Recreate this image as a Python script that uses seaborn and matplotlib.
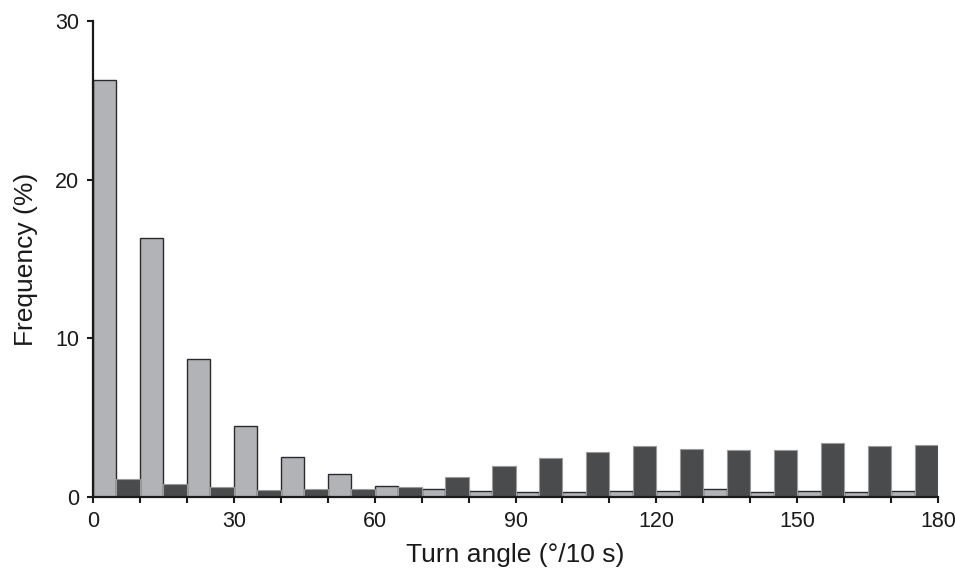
import pandas as pd
import seaborn as sns
import matplotlib.pyplot as plt
from matplotlib.ticker import MultipleLocator

# frequency (%) per 10-degree turn angle bin, two groups
bin_starts = list(range(0, 180, 10))
light_freq = [26.3, 16.3, 8.7, 4.47, 2.5, 1.43, 0.69, 0.48, 0.4,
              0.3, 0.3, 0.4, 0.4, 0.48, 0.3, 0.4, 0.3, 0.4]
dark_freq = [1.11, 0.79, 0.6, 0.46, 0.52, 0.52, 0.6, 1.28, 1.93,
             2.46, 2.82, 3.2, 3.05, 2.96, 2.96, 3.38, 3.2, 3.3]

sns.set_style("ticks")
plt.rcParams['font.family'] = ['Liberation Sans', 'DejaVu Sans']

fig = plt.figure(figsize=(9.55, 5.69), dpi=100)
ax = fig.add_axes([0.0974, 0.1265, 0.8848, 0.837])

light = pd.DataFrame({"angle": [b + 2.5 for b in bin_starts], "freq": light_freq})
dark = pd.DataFrame({"angle": [b + 7.5 for b in bin_starts], "freq": dark_freq})

sns.histplot(data=light, x="angle", weights="freq", binwidth=5, binrange=(0, 180),
             ax=ax, color="#b2b3b7", edgecolor="#2b2b2b", linewidth=1.0, alpha=1)
sns.histplot(data=dark, x="angle", weights="freq", binwidth=5, binrange=(0, 180),
             ax=ax, color="#4a4b4d", edgecolor="#9a9a9a", linewidth=0.8, alpha=1)

ax.set_xlim(0, 180)
ax.set_ylim(0, 30)
ax.set_xticks(range(0, 181, 30))
ax.xaxis.set_minor_locator(MultipleLocator(10))
ax.set_yticks([0, 10, 20, 30])
ax.tick_params(axis="both", which="both", direction="out", length=4,
               width=1.5, labelsize=15.5, color="#1a1a1a", labelcolor="#1a1a1a")
ax.tick_params(axis="x", pad=6)
ax.tick_params(axis="y", pad=6)
sns.despine(ax=ax)
for s in ["left", "bottom"]:
    ax.spines[s].set_linewidth(1.6)
    ax.spines[s].set_color("#1a1a1a")

ax.set_xlabel("Turn angle (°/10 s)", fontsize=19, color="#1a1a1a", labelpad=8)
ax.set_ylabel("Frequency (%)", fontsize=19, color="#1a1a1a", labelpad=12)

fig.savefig("out.png", dpi=100)
